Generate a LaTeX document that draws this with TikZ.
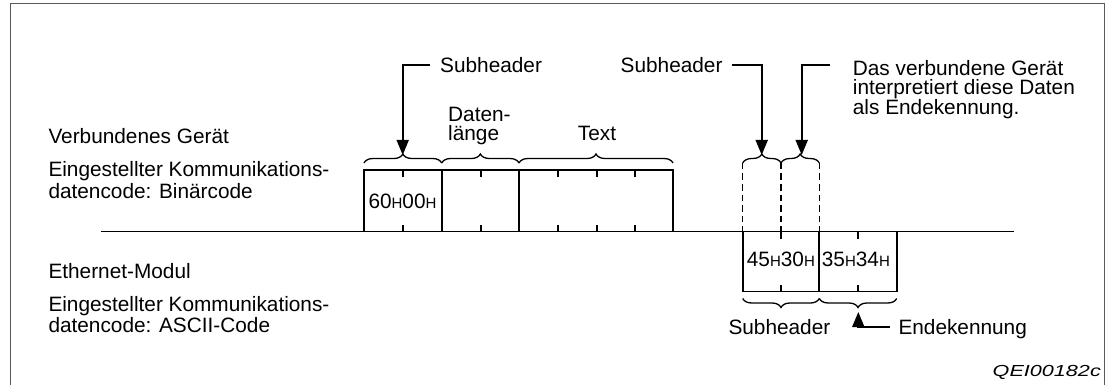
\documentclass[tikz,border=0pt]{standalone}
\usepackage{fontspec}
\setmainfont{Liberation Sans}
\usetikzlibrary{arrows.meta,decorations.pathreplacing}
\newcommand{\hsub}{{\fontsize{15}{15}\selectfont H}}
\begin{document}
\begin{tikzpicture}[x=1pt,y=-1pt,
  txt/.style={inner sep=0pt, anchor=base west, font=\fontsize{20.8}{22}\selectfont},
  heavy/.style={line width=1.8pt, line cap=rect},
  tick/.style={line width=1.8pt},
  bracetop/.style={line width=1.3pt, decorate, decoration={brace, amplitude=9pt}},
  bracebot/.style={line width=1.3pt, decorate, decoration={brace, amplitude=9pt, mirror}},
  dashline/.style={line width=1.5pt, dash pattern=on 6.5pt off 4pt},
  pointer/.style={line width=1.8pt, -{Triangle[length=15pt,width=12pt]}},
  frame/.style={line width=1pt, draw=black!65}
]
\useasboundingbox (0,0) rectangle (1106,385);
% frame (open at the bottom)
\draw[frame] (10,385) -- (10,4) -- (1104,4) -- (1104,385);

% main line
\draw[heavy] (102,231.5) -- (1013,231.5);

% upper boxes (connected device, binary)
\draw[heavy] (364,231.5) -- (364,170) -- (673,170) -- (673,231.5);
\draw[heavy] (441.7,170) -- (441.7,231.5);
\draw[heavy] (519,170) -- (519,231.5);
\foreach \x in {402.7,480.7,558,596.7,635}{
  \draw[tick] (\x,170) -- (\x,177);
  \draw[tick] (\x,224.5) -- (\x,231.5);
}
% upper braces
\draw[bracetop] (364,163) -- (441.7,163);
\draw[bracetop] (441.7,163) -- (519,163);
\draw[bracetop] (519,163) -- (673,163);

% dashed columns
\foreach \x in {742.7,781,819.3}{
  \draw[dashline] (\x,163) -- (\x,231.5);
}
\draw[bracetop] (742.7,163) -- (781,163);
\draw[bracetop] (781,163) -- (819.3,163);

% lower boxes (ethernet module, ASCII)
\draw[heavy] (742.7,231.5) -- (742.7,291.5) -- (896.7,291.5) -- (896.7,231.5);
\draw[heavy] (819.3,231.5) -- (819.3,291.5);
\foreach \x in {781,858.3}{
  \draw[tick] (\x,231.5) -- (\x,238.5);
  \draw[tick] (\x,284.5) -- (\x,291.5);
}
\draw[bracebot] (742.7,298.5) -- (819.3,298.5);
\draw[bracebot] (819.3,298.5) -- (896.7,298.5);

% box contents
\node[txt] (v60) at (368.3,208.3) {60\hsub00\hsub};
\node[txt] (v45) at (746.7,266.7) {45\hsub30\hsub};
\node[txt] (v35) at (821.7,266.7) {35\hsub34\hsub};

% left labels
\node[txt] (dev)  at (48.3,144) {Verbundenes Gerät};
\node[txt] (dev1) at (48.3,176.7) {Eingestellter Kommunikations-};
\node[txt] (dev2) at (48.3,198.5) {datencode: Binärcode};
\node[txt] (eth)  at (48.3,278.3) {Ethernet-Modul};
\node[txt] (eth1) at (48.3,311) {Eingestellter Kommunikations-};
\node[txt] (eth2) at (48.3,332.7) {datencode: ASCII-Code};

% field labels
\node[txt] (dl1) at (448,121.7) {Daten-};
\node[txt] (dl2) at (448,140.7) {länge};
\node[txt, anchor=base] (text) at (597,140.7) {Text};

% pointer labels
\node[txt] (sub1) at (440,72.3) {Subheader};
\node[txt, anchor=base east] (sub2) at (722.7,72.3) {Subheader};
\node[txt, anchor=north west, align=left, font=\fontsize{20.8}{19}\selectfont] (das) at (852.7,59.8)
  {Das verbundene Gerät\\interpretiert diese Daten\\als Endekennung.};
\node[txt] (sub3) at (728.3,334) {Subheader};
\node[txt] (endk) at (898.3,334) {Endekennung};

\node[inner sep=0pt, anchor=base east, font=\fontsize{16}{16}\selectfont\itshape] (code) at (1101,376) {\scalebox{1.35}[1]{QEI00182c}};

% pointer targets
\coordinate (t1) at (402.7,155);
\coordinate (t2) at (761.7,155);
\coordinate (t3) at (801.7,155);
\coordinate (t4) at (858.3,312);

\draw[pointer] ([xshift=-10pt]sub1.west) -| (t1);
\draw[pointer] ([xshift=9pt]sub2.east) -| (t2);
\draw[pointer] ([xshift=-22.7pt,yshift=-5.2pt]das.north west) -| (t3);
\draw[pointer] ([xshift=-8.3pt,yshift=1.5pt]endk.west) -| (t4);
\end{tikzpicture}
\end{document}
